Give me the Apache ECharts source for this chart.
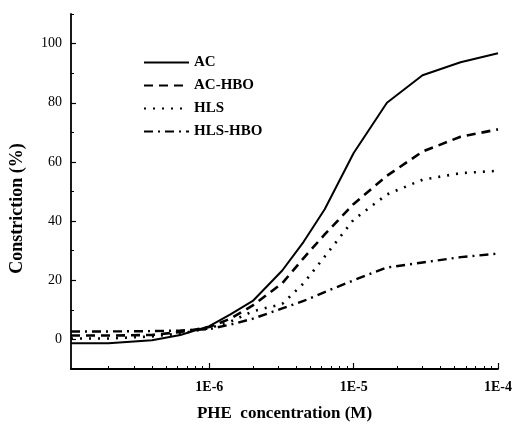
<!DOCTYPE html>
<html>
<head>
<meta charset="utf-8">
<script src="https://cdn.jsdelivr.net/npm/echarts@6/dist/echarts.min.js"></script>
<style>
html,body{margin:0;padding:0;background:#fff;}
#chart{width:515px;height:427px;}
</style>
</head>
<body>
<div id="chart"></div>
<script>
// PHE concentration (M)
var concentrations = [1.1e-7, 2e-7, 4e-7, 6.3e-7, 1e-6, 1.4e-6, 2e-6, 3.2e-6, 4.5e-6, 6.3e-6, 1e-5, 1.7e-5, 3e-5, 5.5e-5, 1e-4];
// Constriction (%)
var acValues     = [-1.3, -1.3, -0.3, 1.5, 4.5, 8.5, 13, 23.3, 33, 44, 63, 80, 89.3, 93.7, 96.7];
var acHboValues  = [1.3, 1.3, 1.5, 2.5, 4.2, 7, 11.5, 19, 27.5, 35.5, 45.8, 55.3, 63.5, 68.5, 71];
var hlsValues    = [0.3, 0.3, 1, 2, 3.8, 6, 9.5, 12, 19, 28, 40.5, 49, 54, 56.2, 57];
var hlsHboValues = [2.7, 2.7, 2.8, 3, 3.5, 5, 7, 10.5, 13, 16, 20, 24.3, 26, 27.8, 29];
var seriesNames = ['AC', 'AC-HBO', 'HLS', 'HLS-HBO'];
var xMajorTicks = [1e-6, 1e-5, 1e-4];
var xMinorTicks = [2e-7,3e-7,4e-7,5e-7,6e-7,7e-7,8e-7,9e-7,2e-6,3e-6,4e-6,5e-6,6e-6,7e-6,8e-6,9e-6,2e-5,3e-5,4e-5,5e-5,6e-5,7e-5,8e-5,9e-5];
var yMajorTicks = [0, 20, 40, 60, 80, 100];
var yMinorTicks = [-10, 10, 30, 50, 70, 90, 110];

var FONT = '"Liberation Serif", "DejaVu Serif", serif';

function pairs(vals) {
  return concentrations.map(function (c, i) { return [c, vals[i]]; });
}

var lineStyles = [
  { type: 'solid', width: 2 },
  { type: [9, 6], width: 2.6 },
  { type: [2, 7], width: 2.6 },
  { type: [9, 5, 2, 5], width: 2.4 }
];
var allValues = [acValues, acHboValues, hlsValues, hlsHboValues];

var chart = echarts.init(document.getElementById('chart'));
var xMin = 1.1e-7, xMax = 1e-4;
chart.setOption({
  backgroundColor: '#fff',
  animation: false,
  grid: { left: 71, right: 13, top: 14, bottom: 54 },
  legend: {
    left: 138, top: 50, orient: 'vertical',
    itemWidth: 45, itemHeight: 14, itemGap: 8,
    itemStyle: { opacity: 0 },
    textStyle: { fontFamily: FONT, fontSize: 15, fontWeight: 'bold', color: '#000' },
    data: seriesNames
  },
  xAxis: [{
    type: 'log', logBase: 10, min: xMin, max: xMax,
    name: 'PHE  concentration (M)', nameLocation: 'middle', nameGap: 36,
    nameTextStyle: { fontFamily: FONT, fontSize: 17, fontWeight: 'bold', color: '#000' },
    axisLine: { onZero: false, lineStyle: { color: '#000', width: 1.8 } },
    axisTick: { inside: true, length: 6, lineStyle: { color: '#000', width: 1.2 }, customValues: xMajorTicks },
    axisLabel: { customValues: xMajorTicks, fontFamily: FONT, fontSize: 14, fontWeight: 'bold', color: '#000', margin: 11,
      formatter: function (v) { return '1E' + Math.round(Math.log10(v)); } },
    splitLine: { show: false }, minorTick: { show: false }
  }, {
    type: 'log', logBase: 10, min: xMin, max: xMax, position: 'bottom',
    axisLine: { show: false, onZero: false },
    axisTick: { inside: true, length: 3, lineStyle: { color: '#000', width: 1 }, customValues: xMinorTicks },
    axisLabel: { show: false }, splitLine: { show: false }
  }],
  yAxis: [{
    type: 'value', min: -10, max: 110,
    name: 'Constriction (%)', nameLocation: 'middle', nameGap: 45,
    nameTextStyle: { fontFamily: FONT, fontSize: 18, fontWeight: 'bold', color: '#000', padding: [0, 34, 0, 0] },
    axisLine: { show: true, onZero: false, lineStyle: { color: '#000', width: 1.8 } },
    axisTick: { show: true, inside: true, length: 5, lineStyle: { color: '#000', width: 1.2 }, customValues: yMajorTicks },
    axisLabel: { customValues: yMajorTicks, fontFamily: FONT, fontSize: 14, color: '#000', margin: 9 },
    splitLine: { show: false }
  }, {
    type: 'value', min: -10, max: 110, position: 'left',
    axisLine: { show: false, onZero: false },
    axisTick: { show: true, inside: true, length: 3, lineStyle: { color: '#000', width: 1 }, customValues: yMinorTicks },
    axisLabel: { show: false }, splitLine: { show: false }
  }],
  series: seriesNames.map(function (name, i) {
    return {
      name: name, type: 'line', xAxisIndex: 0, yAxisIndex: 0,
      data: pairs(allValues[i]), symbol: 'none', smooth: false,
      lineStyle: Object.assign({ color: '#000' }, lineStyles[i]),
      itemStyle: { color: '#000' }
    };
  })
});
</script>
</body>
</html>
